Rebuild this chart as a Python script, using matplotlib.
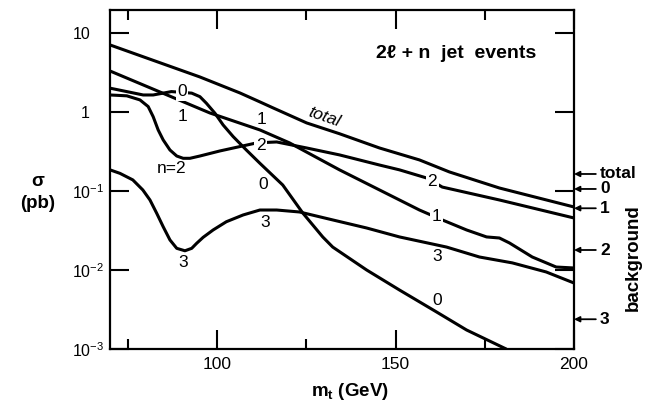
import numpy as np
import matplotlib
matplotlib.use('Agg')
import matplotlib.pyplot as plt
import matplotlib.transforms as mtrans

plt.rcParams['font.family'] = ['Liberation Sans', 'DejaVu Sans']
plt.rcParams['mathtext.default'] = 'regular'

# cross sections (pb) vs top mass (GeV), one curve per jet multiplicity
mt_total = [70, 95.2, 106.4, 112, 115.6, 125.1, 134.3, 145.5, 156.7, 165.1, 179.1, 200]
sig_total = [7.05, 2.77, 1.74, 1.34, 1.13, 0.726, 0.53, 0.350, 0.247, 0.174, 0.109, 0.0627]

mt_n0 = [70, 74.7, 79.3, 82.1, 84.9, 87.2, 92.9, 95.2, 97.0, 99.4, 101.7, 104.5,
         108.2, 112, 118.4, 124, 129.6, 132.4, 141.9, 151.1, 161.5, 169.9, 181]
sig_n0 = [2.00, 1.81, 1.64, 1.64, 1.73, 1.81, 1.73, 1.56, 1.29, 0.964, 0.684, 0.488,
          0.330, 0.224, 0.119, 0.0527, 0.0262, 0.0195, 0.0100, 0.00558, 0.00294,
          0.00174, 0.0010]

mt_n1 = [70, 98, 112, 120.3, 134.3, 151.1, 156.7, 163.1, 169.9, 175.5, 179.1,
         181.9, 188.3, 195, 200]
sig_n1 = [3.30, 0.97, 0.592, 0.406, 0.185, 0.0769, 0.0574, 0.0430, 0.0321, 0.0262,
          0.0254, 0.0220, 0.0146, 0.0109, 0.0106]

mt_n2 = [70, 74.7, 78.4, 80.7, 82.1, 83.5, 84.9, 86.8, 88.7, 90.5, 92.4, 95.2,
         100.8, 111.1, 116.7, 125.1, 134.3, 145.5, 151.1, 158.7, 163.1, 179.1, 200]
sig_n2 = [1.64, 1.60, 1.42, 1.17, 0.871, 0.592, 0.443, 0.330, 0.277, 0.259, 0.259,
          0.277, 0.321, 0.406, 0.417, 0.350, 0.286, 0.213, 0.185, 0.146, 0.112,
          0.0769, 0.0455]

mt_n3 = [70, 72.8, 76.4, 79.2, 81.2, 83.1, 84.9, 86.8, 88.7, 91.0, 92.9, 94.3, 96.1,
         98.9, 102.6, 107.3, 112, 116.7, 123.1, 132.4, 141.9, 151.1, 164.3, 173.5,
         182.7, 192.2, 200]
sig_n3 = [0.185, 0.167, 0.138, 0.103, 0.0769, 0.0521, 0.0353, 0.0240, 0.0188, 0.0175,
          0.0188, 0.0218, 0.0259, 0.0321, 0.0408, 0.0497, 0.0574, 0.0574, 0.0542,
          0.043, 0.034, 0.0262, 0.0195, 0.0146, 0.0123, 0.00944, 0.00684]

# background levels marked on the right-hand axis
bkg_names = ['total', '0', '1', '2', '3']
bkg_sigma = [0.164, 0.106, 0.0604, 0.0179, 0.00238]

ytick_vals = [1e1, 1, 1e-1, 1e-2, 1e-3]
ytick_labs = ['10', '  1', '10$^{-1}$', '10$^{-2}$', '10$^{-3}$']

fig = plt.figure(figsize=(6.57, 4.07), dpi=100)
ax = fig.add_axes([0.1674, 0.1425, 0.7063, 0.8329])

for mt, sig in [(mt_total, sig_total), (mt_n0, sig_n0), (mt_n1, sig_n1),
                (mt_n2, sig_n2), (mt_n3, sig_n3)]:
    ax.plot(mt, sig, color='k', lw=2.2, solid_joinstyle='round',
            solid_capstyle='round')

ax.set_yscale('log')
ax.set_xlim(70, 200)
ax.set_ylim(1e-3, 19.5)

ax.set_xticks([100, 150, 200])
ax.set_xticks([75, 125, 175], minor=True)
ax.set_xticklabels(['100', '150', '200'])
ax.set_yticks(ytick_vals)
ax.set_yticklabels(ytick_labs)
ax.yaxis.set_minor_locator(matplotlib.ticker.NullLocator())
for lab in ax.get_yticklabels():
    lab.set_ha('left')

ax.tick_params(which='both', direction='in', top=True, right=True, width=1.5)
ax.tick_params(which='major', length=14)
ax.tick_params(which='minor', length=7)
ax.tick_params(axis='y', pad=27, labelsize=11.5)
ax.tick_params(axis='x', pad=6, labelsize=12.5)
for sp in ax.spines.values():
    sp.set_linewidth(1.6)

ax.set_xlabel('m$_t$ (GeV)', fontsize=13.5, fontweight='bold')
ax.xaxis.set_label_coords(0.517, -0.095)
fig.text(0.058, 0.527, '$\\sigma$\n(pb)', fontsize=13.5, fontweight='bold',
         ha='center', va='center', linespacing=1.4)

ax.text(0.746, 0.873, '2\u2113 + n  jet  events', transform=ax.transAxes,
        fontsize=14, fontweight='bold', ha='center', va='center')

# curve labels, some sit in a gap cut out of their line
white = dict(facecolor='white', edgecolor='none', pad=1.0)
curve_labels = [
    ('0', 90.1, 1.79, True), ('1', 90.4, 0.865, False),
    ('n=2', 87.3, 0.195, False), ('3', 90.4, 0.0126, False),
    ('1', 112.5, 0.792, False), ('2', 112.2, 0.372, True),
    ('0', 112.8, 0.119, False), ('3', 113.4, 0.0394, False),
    ('2', 160.3, 0.130, True), ('1', 161.5, 0.0469, True),
    ('3', 161.7, 0.0146, False), ('0', 161.7, 0.00417, False),
]
for txt, x, y, gap in curve_labels:
    ax.text(x, y, txt, fontsize=12.5, ha='center', va='center',
            bbox=white if gap else None)
ax.text(130.1, 0.865, 'total', fontsize=12.5, style='italic', ha='center',
        va='center', rotation=-19)

# arrows for background levels outside the right spine
blend = mtrans.blended_transform_factory(ax.transAxes, ax.transData)
for name, val in zip(bkg_names, bkg_sigma):
    ax.annotate(name, xy=(1.0, val), xycoords=blend,
                xytext=(1.056, val), textcoords=blend,
                fontsize=12.5, fontweight='bold', ha='left', va='center',
                annotation_clip=False,
                arrowprops=dict(arrowstyle='-|>', color='k', lw=1.3,
                                shrinkA=1, shrinkB=0, mutation_scale=8))
ax.text(1.127, 0.27, 'background', transform=ax.transAxes, rotation=90,
        fontsize=13.5, fontweight='bold', ha='center', va='center')

fig.savefig('out.png', dpi=100)
